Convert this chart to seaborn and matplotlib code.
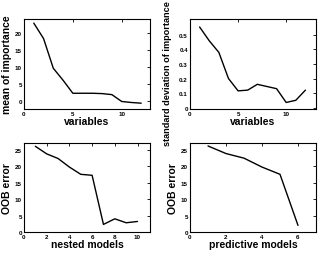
import seaborn as sns
import matplotlib.pyplot as plt

# variable importance (mean, std) and OOB errors of nested / predictive models
variables = [1, 2, 3, 4, 5, 6, 7, 8, 9, 10, 11, 12]
mean_imp = [22.9, 18.4, 9.7, 6.2, 2.4, 2.4, 2.4, 2.3, 2.0, 0.0, -0.3, -0.5]
std_imp = [0.555, 0.46, 0.38, 0.20, 0.115, 0.12, 0.16, 0.145, 0.13, 0.035, 0.05, 0.12]

nested = [1, 2, 3, 4, 5, 6, 7, 8, 9, 10]
nested_err = [26.0, 23.7, 22.3, 19.7, 17.5, 17.2, 2.3, 4.0, 2.8, 3.2]

predictive = [1, 2, 3, 4, 5, 6]
predictive_err = [26.1, 23.8, 22.4, 19.7, 17.5, 2.0]

sns.set_style("white")
plt.rcParams['font.family'] = ['Liberation Sans', 'DejaVu Sans']
plt.rcParams['font.weight'] = 'bold'
plt.rcParams['axes.labelweight'] = 'bold'
plt.rcParams['text.color'] = 'black'
plt.rcParams['axes.labelcolor'] = 'black'
plt.rcParams['xtick.color'] = 'black'
plt.rcParams['ytick.color'] = 'black'

fig = plt.figure(figsize=(3.19, 2.55), dpi=100)
W, H = 319, 255

def make_ax(l, t, r, b):
    return fig.add_axes([l / W, 1 - b / H, (r - l) / W, (b - t) / H])

ax1 = make_ax(24, 20, 150, 110)
ax2 = make_ax(190, 20, 316, 110)
ax3 = make_ax(24, 144, 150, 233)
ax4 = make_ax(190, 144, 316, 233)

sns.lineplot(x=variables, y=mean_imp, ax=ax1, color="black", linewidth=1)
ax1.set_xlim(0, 12.9)
ax1.set_ylim(-2.2, 24.1)
ax1.set_xticks([0, 5, 10])
ax1.set_yticks([0, 5, 10, 15, 20])
ax1.set_xlabel("variables")
ax1.set_ylabel("mean of importance")

sns.lineplot(x=variables, y=std_imp, ax=ax2, color="black", linewidth=1)
ax2.set_xlim(0, 13.1)
ax2.set_ylim(-0.01, 0.61)
ax2.set_xticks([0, 5, 10])
ax2.set_yticks([0, 0.1, 0.2, 0.3, 0.4, 0.5])
ax2.set_yticklabels(["0", "0.1", "0.2", "0.3", "0.4", "0.5"])
ax2.set_xlabel("variables")
ax2.set_ylabel("standard deviation of importance")

sns.lineplot(x=nested, y=nested_err, ax=ax3, color="black", linewidth=1)
ax3.set_xlim(0, 11.1)
ax3.set_ylim(0, 27)
ax3.set_xticks([0, 2, 4, 6, 8, 10])
ax3.set_yticks([0, 5, 10, 15, 20, 25])
ax3.set_xlabel("nested models")
ax3.set_ylabel("OOB error")

sns.lineplot(x=predictive, y=predictive_err, ax=ax4, color="black", linewidth=1)
ax4.set_xlim(0, 7)
ax4.set_ylim(0, 27)
ax4.set_xticks([0, 2, 4, 6])
ax4.set_yticks([0, 5, 10, 15, 20, 25])
ax4.set_xlabel("predictive models")
ax4.set_ylabel("OOB error")

for ax in [ax1, ax2, ax3, ax4]:
    for s in ax.spines.values():
        s.set_color("black")
        s.set_linewidth(0.8)
    ax.tick_params(direction="in", length=2, width=0.6, labelsize=4.5,
                   top=True, right=True, pad=1.5)
    for lab in ax.get_xticklabels() + ax.get_yticklabels():
        lab.set_fontweight("bold")
    ax.xaxis.label.set_size(7.5)
    ax.yaxis.label.set_size(7.5)
    ax.xaxis.labelpad = 0
    ax.yaxis.labelpad = 2

# long label: slightly smaller and nudged down so it stays inside the figure
ax2.yaxis.label.set_size(6.6)
ax2.yaxis.set_label_coords(-0.14, 0.4)

plt.savefig("out.png", dpi=100)
